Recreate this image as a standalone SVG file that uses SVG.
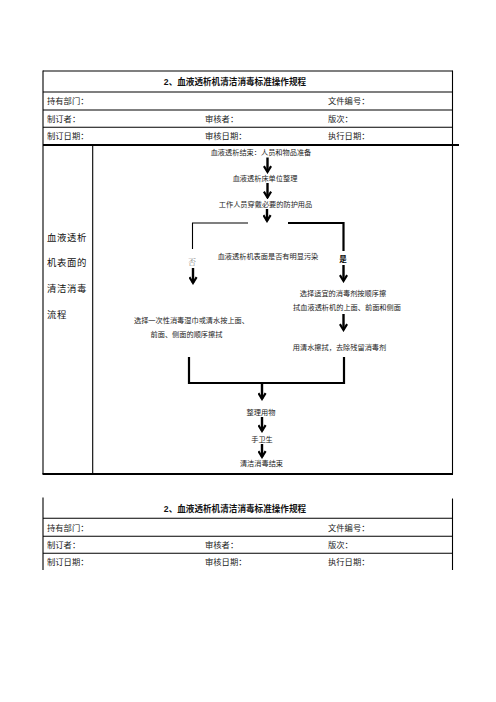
<svg xmlns="http://www.w3.org/2000/svg" width="496" height="702" viewBox="0 0 496 702">
<style>
.t{font-family:"Liberation Sans","Noto Sans CJK SC",sans-serif;font-size:8.3px;fill:#222}
.h{font-family:"Liberation Sans","Noto Sans CJK SC",sans-serif;font-size:8.6px;font-weight:bold;fill:#111}
.f{font-family:"Noto Sans CJK SC",sans-serif;font-size:7.2px;fill:#222}
.side{font-family:"Noto Sans CJK SC",sans-serif;font-size:9.4px;fill:#111;letter-spacing:0.6px}
.b{stroke:#000;stroke-width:1.1;fill:none}
.bt{stroke:#000;stroke-width:2;fill:none}
.c{stroke:#000;stroke-width:2.2;fill:none}
.ct{stroke:#000;stroke-width:1.1;fill:none}
.a{stroke:#000;stroke-width:2.4;fill:none;marker-end:url(#ah)}
</style>
<defs>
<marker id="ah" viewBox="0 0 10 10" refX="8" refY="5" markerWidth="9" markerHeight="9" orient="auto" markerUnits="userSpaceOnUse">
<path d="M1.5,1 L8,5 L1.5,9" fill="none" stroke="#000" stroke-width="2.4"/>
</marker>
</defs>
<rect width="496" height="702" fill="#fff"/>

<g id="table1">
<line class="b" x1="43" y1="71" x2="452.5" y2="71"/>
<line class="b" x1="43" y1="70.5" x2="43" y2="474"/>
<line class="b" x1="452.5" y1="70.5" x2="452.5" y2="474"/>
<line class="b" x1="43" y1="92" x2="452.5" y2="92"/>
<line class="b" x1="43" y1="110" x2="452.5" y2="110"/>
<line class="b" x1="43" y1="127.3" x2="452.5" y2="127.3"/>
<line class="bt" x1="43" y1="145" x2="459" y2="145"/>
<line class="b" x1="92.7" y1="145" x2="92.7" y2="474"/>
<line class="bt" x1="42.5" y1="474" x2="453" y2="474"/>
<text class="h" x="235" y="85" text-anchor="middle">2、血液透析机清洁消毒标准操作规程</text>
<text class="t" x="47" y="104">持有部门：</text>
<text class="t" x="328" y="104">文件编号：</text>
<text class="t" x="47" y="121.5">制订者：</text>
<text class="t" x="205" y="121.5">审核者：</text>
<text class="t" x="328" y="121.5">版次：</text>
<text class="t" x="47" y="139">制订日期：</text>
<text class="t" x="205" y="139">审核日期：</text>
<text class="t" x="328" y="139">执行日期：</text>
<text class="side" x="47" y="241">血液透析</text>
<text class="side" x="47" y="266">机表面的</text>
<text class="side" x="47" y="292">清洁消毒</text>
<text class="side" x="47" y="318">流程</text>
</g>

<g id="n1"><text class="f" x="261" y="155" text-anchor="middle">血液透析结束：人员和物品准备</text></g>
<g id="n2"><text class="f" x="265" y="181" text-anchor="middle">血液透析床单位整理</text></g>
<g id="n3"><text class="f" x="265.5" y="207" text-anchor="middle">工作人员穿戴必要的防护用品</text></g>
<g id="n4"><text class="f" x="268" y="259" text-anchor="middle">血液透析机表面是否有明显污染</text></g>
<g id="lblNo"><text x="192" y="264.5" text-anchor="middle" font-family="'Noto Serif CJK SC','Noto Sans CJK SC',serif" font-size="8px" fill="#888">否</text></g>
<g id="lblYes"><text x="343" y="262" text-anchor="middle" font-family="'Noto Sans CJK SC',sans-serif" font-size="7.5px" font-weight="bold" fill="#000">是</text></g>
<g id="n5"><text class="f" x="343" y="296" text-anchor="middle">选择适宜的消毒剂按顺序擦</text><text class="f" x="347" y="310" text-anchor="middle">拭血液透析机的上面、前面和侧面</text></g>
<g id="n6"><text class="f" x="339.5" y="349.5" text-anchor="middle">用清水擦拭，去除残留消毒剂</text></g>
<g id="n7"><text class="f" x="191.5" y="323" text-anchor="middle">选择一次性消毒湿巾或清水按上面、</text><text class="f" x="186.5" y="337" text-anchor="middle">前面、侧面的顺序擦拭</text></g>
<g id="n8"><text class="f" x="261" y="414.5" text-anchor="middle">整理用物</text></g>
<g id="n9"><text class="f" x="262" y="441.5" text-anchor="middle">手卫生</text></g>
<g id="n10"><text class="f" x="261.5" y="466" text-anchor="middle">清洁消毒结束</text></g>

<g id="connectors">
<line class="a" x1="267.5" y1="157.5" x2="267.5" y2="172"/>
<line class="a" x1="267.5" y1="183" x2="267.5" y2="197.5"/>
<line class="a" x1="267" y1="209" x2="267" y2="221"/>
<polyline class="ct" points="192.5,249 192.5,223 248,223"/>
<polyline class="c" points="288,223 343.5,223 343.5,251"/>
<line class="a" x1="193" y1="268" x2="193" y2="283"/>
<line class="a" x1="343.5" y1="265" x2="343.5" y2="281"/>
<line class="a" x1="343.5" y1="314" x2="343.5" y2="330"/>
<polyline class="c" points="189,357 189,383 344,383 344,357"/>
<line class="a" x1="262" y1="384" x2="262" y2="399"/>
<line class="a" x1="262" y1="417" x2="262" y2="431"/>
<line class="a" x1="262" y1="444" x2="262" y2="457"/>
</g>

<g id="table2">
<line class="b" x1="43" y1="497.5" x2="43" y2="570"/>
<line class="b" x1="452.5" y1="498.5" x2="452.5" y2="570"/>
<line class="b" x1="43" y1="518.3" x2="452.5" y2="518.3"/>
<line class="b" x1="43" y1="536.3" x2="452.5" y2="536.3"/>
<line class="b" x1="43" y1="553.3" x2="452.5" y2="553.3"/>
<text class="h" x="235" y="512" text-anchor="middle">2、血液透析机清洁消毒标准操作规程</text>
<text class="t" x="47" y="530.5">持有部门：</text>
<text class="t" x="328" y="530.5">文件编号：</text>
<text class="t" x="47" y="548">制订者：</text>
<text class="t" x="205" y="548">审核者：</text>
<text class="t" x="328" y="548">版次：</text>
<text class="t" x="47" y="565">制订日期：</text>
<text class="t" x="205" y="565">审核日期：</text>
<text class="t" x="328" y="565">执行日期：</text>
</g>
</svg>
